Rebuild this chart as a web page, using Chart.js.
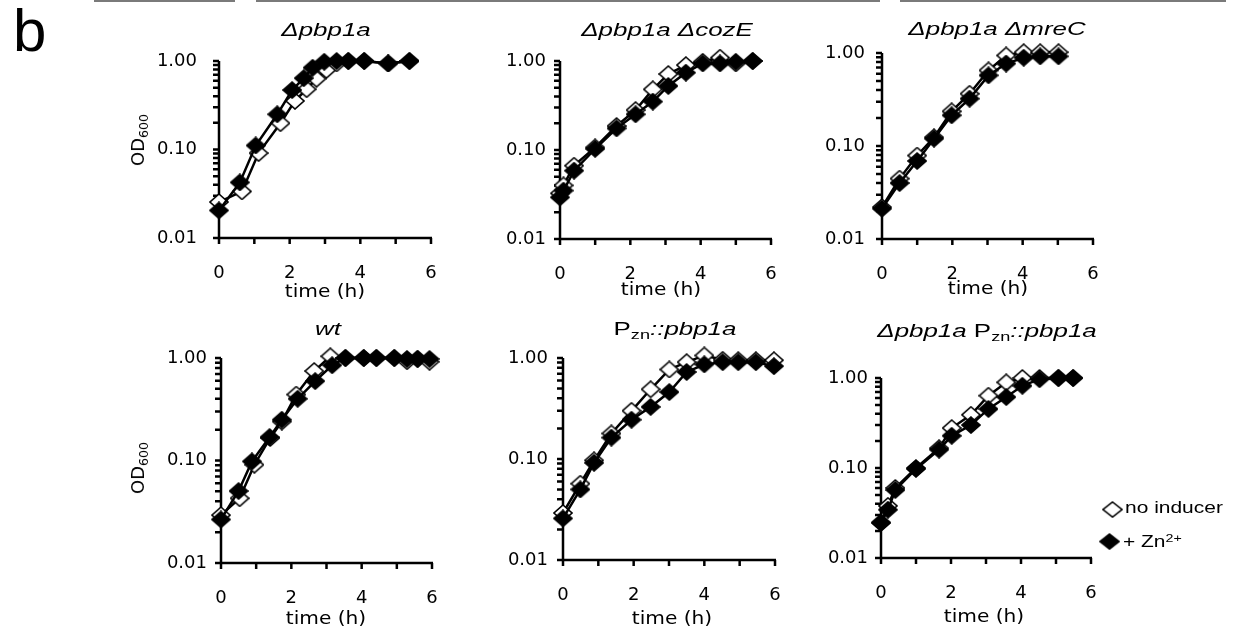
<!DOCTYPE html>
<html>
<head>
<meta charset="utf-8">
<script src="https://cdn.jsdelivr.net/npm/chart.js@4"></script>
<style>
  body { margin: 0; background: #fff; }
  #fig { position: relative; width: 1233px; height: 633px; overflow: hidden; background: #fff; }
  #fig canvas { position: absolute; }
  .txt { position: absolute; line-height: 0; white-space: nowrap; color: #000; }
  .sub { position: relative; top: 0.35em; font-size: 0.7em; }
  .sup { position: relative; top: -0.45em; font-size: 0.68em; }
  .stripe { position: absolute; top: 0; height: 2px; background: #7a7a7a; }
</style>
</head>
<body>
<div id="fig"></div>
<script>
// time (h) and OD600; "No" = no inducer, "Zn" = + Zn2+
const pbp1aTimeNo = [0, 0.65, 1.12, 1.74, 2.15, 2.48, 2.76, 3.04, 3.33, 3.66, 4.11, 4.79, 5.39];
const pbp1aOdNo   = [0.0255, 0.0336, 0.091, 0.198, 0.354, 0.48, 0.63, 0.79, 0.94, 1.0, 1.0, 0.94, 1.0];
const pbp1aTimeZn = [0, 0.59, 1.04, 1.65, 2.07, 2.40, 2.65, 2.98, 3.33, 3.66, 4.11, 4.79, 5.39];
const pbp1aOdZn   = [0.0205, 0.0425, 0.111, 0.25, 0.47, 0.64, 0.84, 0.98, 1.0, 1.0, 1.0, 0.94, 1.0];

const cozETime = [0, 0.1, 0.4, 1.0, 1.61, 2.15, 2.64, 3.08, 3.58, 4.06, 4.55, 5.0, 5.48];
const cozEOdNo = [0.0326, 0.040, 0.0667, 0.107, 0.186, 0.281, 0.48, 0.714, 0.90, 0.98, 1.09, 0.94, 1.0];
const cozEOdZn = [0.0294, 0.035, 0.0586, 0.103, 0.175, 0.252, 0.35, 0.524, 0.74, 0.94, 0.94, 0.98, 1.0];

const mreCTime = [0, 0.5, 1.0, 1.48, 1.98, 2.49, 3.03, 3.53, 4.03, 4.5, 5.02];
const mreCOdNo = [0.022, 0.0446, 0.079, 0.124, 0.236, 0.365, 0.65, 0.94, 1.02, 1.02, 1.02];
const mreCOdZn = [0.0212, 0.040, 0.069, 0.12, 0.214, 0.323, 0.575, 0.77, 0.89, 0.92, 0.92];

const wtTimeNo = [0, 0.53, 0.95, 1.4, 1.73, 2.14, 2.65, 3.11, 3.54, 4.06, 4.42, 4.93, 5.29, 5.59, 5.93];
const wtOdNo   = [0.0293, 0.0428, 0.091, 0.166, 0.24, 0.44, 0.746, 1.04, 1.0, 1.0, 1.0, 1.0, 0.93, 0.98, 0.92];
const wtTimeZn = [0, 0.5, 0.88, 1.38, 1.73, 2.18, 2.68, 3.16, 3.54, 4.06, 4.42, 4.93, 5.29, 5.59, 5.93];
const wtOdZn   = [0.0266, 0.0504, 0.098, 0.169, 0.25, 0.40, 0.595, 0.85, 1.0, 1.0, 1.0, 1.0, 0.98, 0.98, 0.98];

const pznTime = [0, 0.49, 0.88, 1.37, 1.94, 2.48, 3.01, 3.50, 4.0, 4.52, 4.96, 5.46, 5.97];
const pznOdNo = [0.0292, 0.057, 0.097, 0.179, 0.30, 0.49, 0.77, 0.91, 1.06, 0.96, 0.95, 0.95, 0.95];
const pznOdZn = [0.0258, 0.050, 0.0916, 0.163, 0.245, 0.328, 0.46, 0.727, 0.865, 0.91, 0.91, 0.91, 0.83];

const comboTime = [0, 0.2, 0.41, 1.0, 1.66, 2.02, 2.57, 3.07, 3.58, 4.04, 4.53, 5.07, 5.49];
const comboOdNo = [0.0245, 0.038, 0.06, 0.1, 0.166, 0.278, 0.39, 0.637, 0.895, 1.0, 1.0, 1.0, 1.0];
const comboOdZn = [0.0249, 0.0344, 0.057, 0.0975, 0.16, 0.228, 0.30, 0.453, 0.615, 0.82, 0.97, 1.0, 1.0];

// axis ticks
const xTicks = [0, 1, 2, 3, 4, 5, 6];
const xTickLabels = [0, 2, 4, 6];
const yTickLabels = [0.01, 0.1, 1];
const yDecades = [0.01, 0.1];

const TICK = 6;
const PAD = { left: 80, top: 45, right: 40, bottom: 50 };
const fig = document.getElementById('fig');

// box = [left, top, right, bottom] of the plot area on the page
const panels = [
  { title: '<i>Δpbp1a</i>', tx: 326, tb: 36, box: [219, 61, 431, 238], yPad: 22, od: 140,
    no: [pbp1aTimeNo, pbp1aOdNo], zn: [pbp1aTimeZn, pbp1aOdZn], time: [325, 297] },
  { title: '<i>Δpbp1a ΔcozE</i>', tx: 667, tb: 36, box: [560, 61, 771, 239], yPad: 14,
    no: [cozETime, cozEOdNo], zn: [cozETime, cozEOdZn], time: [661, 295] },
  { title: '<i>Δpbp1a ΔmreC</i>', tx: 997, tb: 35, box: [882, 53, 1093, 239], yPad: 17,
    no: [mreCTime, mreCOdNo], zn: [mreCTime, mreCOdZn], time: [988, 294] },
  { title: '<i>wt</i>', tx: 328, tb: 335, box: [221, 358, 432, 563], yPad: 14, od: 468,
    no: [wtTimeNo, wtOdNo], zn: [wtTimeZn, wtOdZn], time: [326, 624] },
  { title: 'P<span class="sub">zn</span><i>::pbp1a</i>', tx: 675, tb: 335, box: [563, 358, 775, 560], yPad: 15,
    no: [pznTime, pznOdNo], zn: [pznTime, pznOdZn], time: [672, 624] },
  { title: '<i>Δpbp1a</i> P<span class="sub">zn</span><i>::pbp1a</i>', tx: 987, tb: 337, box: [881, 378, 1091, 558], yPad: 13,
    no: [comboTime, comboOdNo], zn: [comboTime, comboOdZn], time: [984, 622] }
];

function addText(html, x, baseline, size, opts) {
  opts = opts || {};
  const el = document.createElement('div');
  el.className = 'txt';
  el.innerHTML = html;
  el.style.fontFamily = opts.font || '"Liberation Sans", Arial, sans-serif';
  el.style.fontSize = size + 'px';
  el.style.left = x + 'px';
  el.style.top = (baseline - 0.346 * size) + 'px';
  const sx = opts.scaleX || 1;
  if (opts.align === 'center') {
    el.style.transformOrigin = 'center';
    el.style.transform = 'translateX(-50%) scaleX(' + sx + ')';
  } else {
    el.style.transformOrigin = 'left';
    el.style.transform = 'scaleX(' + sx + ')';
  }
  fig.appendChild(el);
  return el;
}

function addRotated(html, cx, cy, size) {
  const el = document.createElement('div');
  el.className = 'txt';
  el.innerHTML = html;
  el.style.fontFamily = '"DejaVu Sans", sans-serif';
  el.style.fontSize = size + 'px';
  el.style.lineHeight = size + 'px';
  el.style.left = cx + 'px';
  el.style.top = cy + 'px';
  el.style.transform = 'translate(-50%, -50%) rotate(-90deg)';
  fig.appendChild(el);
}

function marker(fill) {
  const c = document.createElement('canvas');
  c.width = 20; c.height = 18;
  const g = c.getContext('2d');
  g.beginPath();
  g.moveTo(10, 1); g.lineTo(19, 9); g.lineTo(10, 17); g.lineTo(1, 9);
  g.closePath();
  g.fillStyle = fill;
  g.fill();
  g.lineWidth = 1.6;
  g.strokeStyle = '#000';
  g.stroke();
  return c;
}
const openDiamond = marker('#fff');
const solidDiamond = marker('#000');

// axis lines and ticks in the Excel style, placed through the chart's scales
const axesPlugin = {
  id: 'axes',
  beforeDatasetsDraw(chart) {
    const { ctx, chartArea: a, scales: { x, y } } = chart;
    ctx.save();
    ctx.strokeStyle = '#000';
    ctx.lineWidth = 2.5;
    ctx.beginPath();
    ctx.moveTo(a.left, a.top);
    ctx.lineTo(a.left, a.bottom + TICK);
    ctx.moveTo(a.left - TICK, a.bottom);
    ctx.lineTo(a.right + 1, a.bottom);
    yDecades.forEach(d => {
      for (let m = 1; m <= 9; m++) {
        const py = y.getPixelForValue(d * m);
        ctx.moveTo(a.left - TICK, py);
        ctx.lineTo(a.left, py);
      }
    });
    const top = y.getPixelForValue(1);
    ctx.moveTo(a.left - TICK, top);
    ctx.lineTo(a.left, top);
    xTicks.forEach(t => {
      const px = x.getPixelForValue(t);
      ctx.moveTo(px, a.bottom);
      ctx.lineTo(px, a.bottom + TICK);
    });
    ctx.stroke();
    ctx.restore();
  }
};

function points(pair) {
  return pair[0].map((t, i) => ({ x: t, y: pair[1][i] }));
}

const tickFont = { family: '"DejaVu Sans", sans-serif', size: 18 };

panels.forEach(p => {
  const [L, T, R, B] = p.box;
  const canvas = document.createElement('canvas');
  const w = R - L + PAD.left + PAD.right, h = B - T + PAD.top + PAD.bottom;
  canvas.width = w; canvas.height = h;
  canvas.style.left = (L - PAD.left) + 'px';
  canvas.style.top = (T - PAD.top) + 'px';
  fig.appendChild(canvas);

  new Chart(canvas.getContext('2d'), {
    type: 'line',
    data: {
      datasets: [
        {
          label: '+ Zn2+',
          data: points(p.zn),
          borderColor: '#000',
          borderWidth: 2.5,
          pointStyle: solidDiamond,
          pointRadius: 10,
          pointBorderWidth: 0,
          tension: 0,
          clip: false
        },
        {
          label: 'no inducer',
          data: points(p.no),
          borderColor: '#000',
          borderWidth: 2.5,
          pointStyle: openDiamond,
          pointRadius: 10,
          pointBorderWidth: 0,
          tension: 0,
          clip: false
        }
      ]
    },
    options: {
      responsive: false,
      animation: false,
      events: [],
      layout: { padding: { left: 0, top: PAD.top, right: PAD.right, bottom: 0 } },
      plugins: { legend: { display: false }, tooltip: { enabled: false } },
      scales: {
        x: {
          type: 'linear',
          min: 0,
          max: 6,
          grid: { display: false, drawTicks: false },
          border: { display: false },
          afterBuildTicks: s => { s.ticks = xTickLabels.map(v => ({ value: v })); },
          afterFit: s => { s.height = PAD.bottom; },
          ticks: { color: '#000', font: tickFont, padding: 25, maxRotation: 0 }
        },
        y: {
          type: 'logarithmic',
          min: 0.01,
          max: 1,
          grid: { display: false, drawTicks: false },
          border: { display: false },
          afterBuildTicks: s => { s.ticks = yTickLabels.map(v => ({ value: v })); },
          afterFit: s => { s.width = PAD.left; },
          ticks: { color: '#000', font: tickFont, padding: p.yPad, callback: v => Number(v).toFixed(2) }
        }
      }
    },
    plugins: [axesPlugin]
  });

  addText(p.title, p.tx, p.tb, 18.5, { align: 'center', scaleX: 1.4 });
  addText('time (h)', p.time[0], p.time[1], 18, { align: 'center', scaleX: 1.12, font: '"DejaVu Sans", sans-serif' });
  if (p.od) addRotated('OD<span class="sub">600</span>', 139, p.od, 18);
});

// panel letter, legend and the cut-off edge of the figure above
addText('b', 13, 52, 60);
const legendMarks = [[openDiamond, 1102, 501], [solidDiamond, 1099, 533]];
legendMarks.forEach(([img, x, y]) => {
  const c = document.createElement('canvas');
  c.width = 21; c.height = 17;
  c.getContext('2d').drawImage(img, 0, 0, 21, 17);
  c.style.left = x + 'px';
  c.style.top = y + 'px';
  fig.appendChild(c);
});
addText('no inducer', 1125, 513, 16.5, { scaleX: 1.27 });
addText('+ Zn<span class="sup">2+</span>', 1123, 547, 16.5, { scaleX: 1.27 });

[[94, 235], [256, 880], [900, 1226]].forEach(([a, b]) => {
  const s = document.createElement('div');
  s.className = 'stripe';
  s.style.left = a + 'px';
  s.style.width = (b - a) + 'px';
  fig.appendChild(s);
});
</script>
</body>
</html>
